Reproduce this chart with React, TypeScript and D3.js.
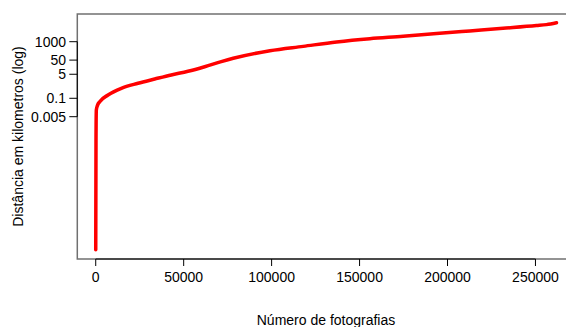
import React from "react";
import * as d3 from "d3";

const photoIndex = [0, 150, 341, 1000, 2273, 6989, 14550, 24040, 33520, 42960, 52450, 61930, 71370, 78180, 99040, 117960, 136940, 155860, 174780, 193760, 212680, 231600, 250580, 256260, 261940];
const distanceKm = [2e-12, 1e-4, 0.0148, 0.0316, 0.0575, 0.17, 0.51, 1.15, 2.29, 4.47, 8.1, 17, 38.9, 67, 229, 468, 955, 1622, 2399, 3800, 5800, 8850, 13740, 16140, 22030];
const xTicks = [0, 50000, 100000, 150000, 200000, 250000];
const yTicks = [1000, 50, 5, 0.1, 0.005];
const yTickLabels = ["1000", "50", "5", "0.1", "0.005"];

const W = 566, H = 327;
const plotLeft = 77.3, plotRight = 575, plotTop = 14, plotBottom = 259;
const font = "Liberation Sans, Arial, Helvetica, sans-serif";

export default function App() {
  const x = d3.scaleLinear().domain([-10480, 272480]).range([plotLeft, plotRight]);
  const y = d3.scaleLog().domain([0.005, 1000]).range([116.7, 41.7]);
  const pts = photoIndex.map((v, i) => [v, distanceKm[i]] as [number, number]);
  const line = d3.line<[number, number]>()
    .x(d => x(d[0]))
    .y(d => y(d[1]))
    .curve(d3.curveMonotoneX);

  return (
    <svg width={W} height={H} style={{ position: "absolute", left: 0, top: 0 }} fontFamily={font}>
      <rect x={0} y={0} width={W} height={H} fill="#fff" />
      <path d={`M${plotRight},${plotTop}H${plotLeft}V${plotBottom}H${plotRight}`} fill="none" stroke="#707070" strokeWidth={1.5} />
      <path d={line(pts) || ""} fill="none" stroke="#ff0000" strokeWidth={3.5} strokeLinejoin="round" strokeLinecap="round" />
      <line x1={x(xTicks[0])} x2={x(xTicks[xTicks.length - 1])} y1={plotBottom} y2={plotBottom} stroke="#000" />
      {xTicks.map(t => (
        <g key={t}>
          <line x1={x(t)} x2={x(t)} y1={plotBottom} y2={plotBottom + 7} stroke="#000" />
          <text x={x(t)} y={281.5} textAnchor="middle" fontSize={14} fill="#000">{t}</text>
        </g>
      ))}
      <line x1={plotLeft} x2={plotLeft} y1={y(yTicks[0])} y2={y(yTicks[yTicks.length - 1])} stroke="#000" />
      {yTicks.map((t, i) => (
        <g key={t}>
          <line x1={plotLeft - 8} x2={plotLeft} y1={y(t)} y2={y(t)} stroke="#000" />
          <text x={66} y={y(t)} dy="0.35em" textAnchor="end" fontSize={14} fill="#000">{yTickLabels[i]}</text>
        </g>
      ))}
      <text x={326} y={325} textAnchor="middle" fontSize={14} fill="#000">Número de fotografias</text>
      <text transform={`translate(23,136.5) rotate(-90)`} textAnchor="middle" fontSize={14} fill="#000">Distância em kilometros (log)</text>
    </svg>
  );
}
